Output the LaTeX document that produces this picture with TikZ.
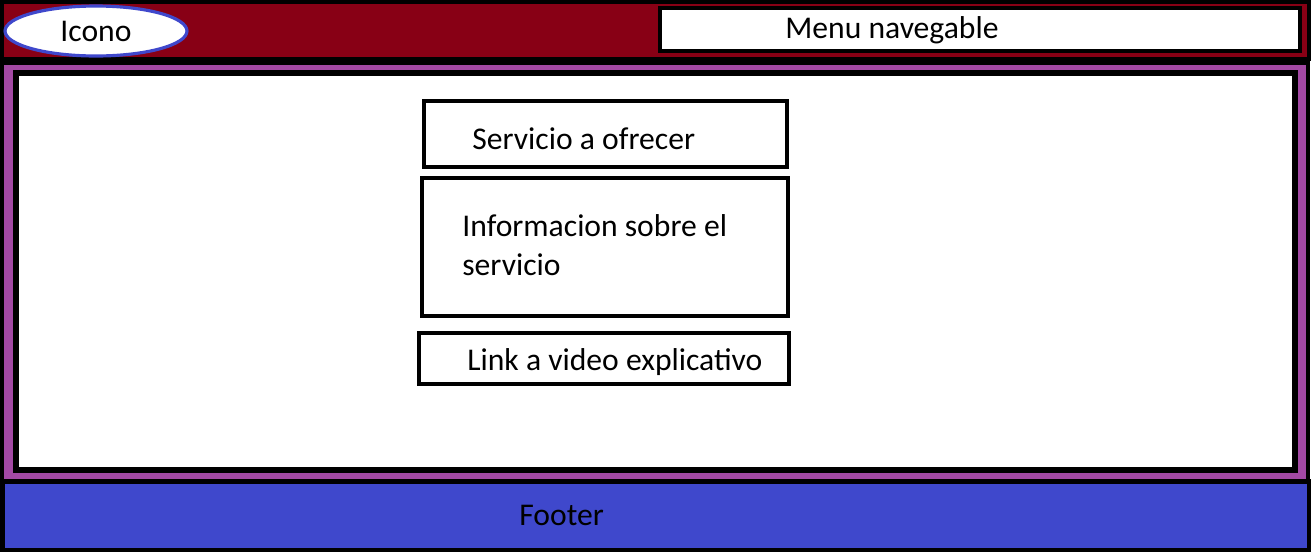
\documentclass[tikz,border=0pt]{standalone}
\usepackage{fontspec}
\setmainfont{Carlito}
\usetikzlibrary{shapes.geometric}
\definecolor{paintred}{HTML}{880015}
\definecolor{paintpurple}{HTML}{A349A4}
\definecolor{paintblue}{HTML}{3F48CC}

\begin{document}
\begin{tikzpicture}[
            x = 0.02cm,
            y = -0.02cm,
    box/.style = {draw=black, line width=2.3pt, fill=white},
      T/.style = {anchor=base west, inner sep=0pt, font=\fontsize{18}{22}\selectfont},
    ico/.style = {ellipse, draw=paintblue, line width=1.8pt, fill=white,
                  minimum width=3.64cm, minimum height=1cm, inner sep=0pt,
                  font=\fontsize{18}{22}\selectfont}
                    ]
\useasboundingbox (0,0) rectangle (1311,552);
% cabecera
\draw[box, fill=paintred] (2,2) rectangle (1309,59);
\draw[box, line width=2.6pt] (660,8) rectangle (1300,51);
\node (icono) [ico] at (96,31) {Icono};
\node (menu) [T] at (785,38) {Menu navegable};
% contenido
\draw[box, fill=paintpurple] (2,63) rectangle (1308,481);
\draw[box, line width=2.9pt] (16,73) rectangle (1295,470);
\draw[box] (424,101) rectangle (787,167);
\node (servicio) [T] at (472,149) {Servicio a ofrecer};
\draw[box] (422,178) rectangle (788,316);
\node (info) [T, anchor=west, align=left] at (462,245) {Informacion sobre el\\servicio};
\draw[box] (419,333) rectangle (789,384);
\node (link) [T] at (467,370) {Link a video explicativo};
% pie
\draw[box, fill=paintblue] (2.5,481.5) rectangle (1309,550);
\node (footer) [T] at (519,525) {Footer};
\end{tikzpicture}
\end{document}
